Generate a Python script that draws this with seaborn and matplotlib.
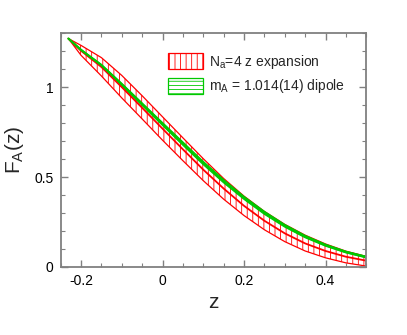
import numpy as np
import pandas as pd
import seaborn as sns
import matplotlib.pyplot as plt
from matplotlib.ticker import MultipleLocator, FuncFormatter

# values
z_vals = [-0.231, -0.2, -0.15, -0.1, -0.05, 0.0, 0.05, 0.1, 0.15, 0.2, 0.25, 0.3, 0.35, 0.4, 0.45, 0.5]

# Na=4 z expansion: central curve and band edges
zexp_mid = [1.27, 1.202, 1.112, 1.000, 0.885, 0.769, 0.654, 0.541, 0.436, 0.340, 0.257, 0.187, 0.131, 0.089, 0.057, 0.035]
zexp_hi = [1.27, 1.232, 1.164, 1.065, 0.952, 0.835, 0.718, 0.602, 0.492, 0.394, 0.309, 0.237, 0.177, 0.128, 0.088, 0.059]
zexp_lo = [1.27, 1.177, 1.062, 0.940, 0.823, 0.705, 0.591, 0.480, 0.377, 0.286, 0.207, 0.141, 0.089, 0.051, 0.023, 0.005]

# mA = 1.014(14) dipole: central curve and half width
dipole_mid = [1.27, 1.207, 1.122, 1.015, 0.905, 0.795, 0.686, 0.578, 0.477, 0.384, 0.301, 0.229, 0.169, 0.121, 0.083, 0.055]
dipole_err = [0.0, 0.002, 0.004, 0.006, 0.007, 0.008, 0.009, 0.009, 0.009, 0.008, 0.008, 0.007, 0.006, 0.005, 0.004, 0.004]

labels = ["N$_\\mathrm{a}$=4 z expansion", "m$_\\mathrm{A}$ = 1.014(14) dipole"]

sns.set_style("ticks")
plt.rcParams["font.family"] = ["Liberation Sans", "DejaVu Sans"]
plt.rcParams["mathtext.fontset"] = "custom"
plt.rcParams["mathtext.rm"] = "Liberation Sans"
plt.rcParams["hatch.linewidth"] = 0.6

df = pd.DataFrame({
    "z": z_vals,
    "zexp": zexp_mid,
    "zexp_hi": zexp_hi,
    "zexp_lo": zexp_lo,
    "dipole": dipole_mid,
})
df["dip_hi"] = df["dipole"] + np.array(dipole_err)
df["dip_lo"] = df["dipole"] - np.array(dipole_err)

red = "#ff0000"
green = "#00c800"

fig = plt.figure(figsize=(4.07, 3.35), dpi=100)
ax = fig.add_axes([0.149, 0.203, 0.751, 0.698])

band_r = ax.fill_between(df["z"], df["zexp_lo"], df["zexp_hi"], facecolor="none",
                         edgecolor=red, hatch="|||", linewidth=0.9, label=labels[0])
sns.lineplot(data=df, x="z", y="zexp", color=red, linewidth=1.3, ax=ax)

band_g = ax.fill_between(df["z"], df["dip_lo"], df["dip_hi"], facecolor="none",
                         edgecolor=green, hatch="----", linewidth=0.9, label=labels[1])
sns.lineplot(data=df, x="z", y="dipole", color=green, linewidth=1.6, ax=ax)

ax.set_xlim(-0.25, 0.5)
ax.set_ylim(0, 1.3)
ax.xaxis.set_major_locator(MultipleLocator(0.2))
ax.xaxis.set_minor_locator(MultipleLocator(0.05))
ax.yaxis.set_major_locator(MultipleLocator(0.5))
ax.yaxis.set_minor_locator(MultipleLocator(0.1))
fmt = FuncFormatter(lambda v, p: f"{v:g}" if abs(v) > 1e-9 else "0")
ax.xaxis.set_major_formatter(fmt)
ax.yaxis.set_major_formatter(fmt)

for s in ax.spines.values():
    s.set_visible(True)
    s.set_color("#808080")
    s.set_linewidth(1.3)
ax.tick_params(which="both", direction="in", top=True, right=True, color="#808080",
               labelsize=10, labelcolor="black")
ax.tick_params(which="major", length=5, width=1.0, pad=5)
ax.tick_params(which="minor", length=3, width=0.8)

ax.set_xlabel("z", fontsize=15, labelpad=4)
ax.set_ylabel("F$_\\mathrm{A}$(z)", fontsize=15, labelpad=6)

ax.legend(handles=[band_r, band_g], labels=labels, loc="upper left",
          bbox_to_anchor=(0.351, 0.915), frameon=False, fontsize=10,
          borderpad=0, borderaxespad=0, handlelength=2.5, handleheight=1.4,
          handletextpad=0.45, labelspacing=0.45)

plt.savefig("out.png", dpi=100)
plt.close()
